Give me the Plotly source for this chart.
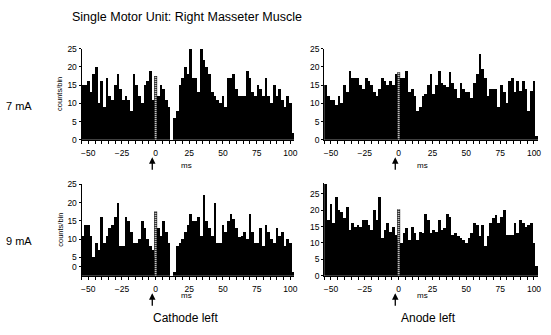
import plotly.graph_objects as go

# bin centres (ms), 2-ms bins
bin_ms = list(range(-54, 103, 2))

cathode_7mA = [15, 15, 16, 13, 18, 20, 10, 16, 9, 17, 12, 11, 15, 18, 14, 11, 12, 11, 8, 18,
               15, 12, 10, 15, 16, 19, 11, 11, 12, 15, 14, 11, 9, 0, 6, 8, 15, 17, 20, 18,
               25, 17, 17, 13, 25, 22, 20, 18, 13, 12, 11, 10, 12, 9, 17, 17, 18, 14, 12, 12,
               12, 19, 17, 13, 12, 15, 14, 12, 17, 12, 10, 15, 12, 14, 11, 9, 12, 10, 2]
anode_7mA = [15, 12, 11, 11, 9.5, 12, 10, 15, 13, 19, 17, 17, 17, 15, 14, 17, 16, 15, 13, 12,
             14, 17, 16, 15, 16, 15, 18, 17.5, 17, 17, 19, 13, 14, 12, 8, 9, 12, 12.5, 15, 18,
             12.5, 15, 19, 15.5, 15, 14.5, 18.5, 15.5, 14, 11.5, 15.5, 14, 13, 13, 11.5, 15.5, 18, 23.5, 19.5, 17,
             12, 14, 14, 14, 9, 15, 13, 10, 16, 17, 13, 16, 13.5, 16, 14, 8, 13.5, 16, 1]
cathode_9mA = [11, 14, 14, 11, 5, 9, 7, 16, 9, 11, 13, 14, 16, 20, 8, 8, 16, 15, 12, 9,
               9, 10, 15, 13, 10, 8, 7, 5, 13, 11, 15, 12, 9, 0, 1, 8, 9, 10, 12, 14,
               17, 15, 15, 16, 11, 22, 15, 13, 11, 20, 9, 9, 14, 12, 15, 17, 15.5, 13, 10.5, 11,
               12, 10, 17, 12, 9, 9, 13, 8, 14, 12, 10, 9, 13, 11, 12, 8, 10, 9, 1]
anode_9mA = [28, 17, 22, 16, 24, 20, 19.5, 17.5, 21, 14, 16, 15, 15.5, 15, 17, 17, 15.5, 14, 20, 17,
             24, 11.5, 14, 16, 13.5, 15, 12.5, 11, 10, 13, 14.5, 11, 15, 13, 11, 13.5, 13, 19, 17, 13,
             14, 13.5, 17, 14, 14.5, 19, 18, 12.5, 13, 12, 11.5, 11, 10, 11.5, 13, 16, 15.5, 12, 15.5, 9,
             12, 16, 17.5, 18.5, 16, 18, 20, 12.5, 12.5, 12.5, 16, 13, 17, 16, 15, 15.5, 16, 10, 3]

x_ticks = [-50, -25, 0, 25, 50, 75, 100]
y_ticks = [0, 5, 10, 15, 20, 25]
stim_top = [17.5, 18.5, 17.6, 20.3]   # height of the dotted stimulus marker

W, H = 551, 335
FONT = "Liberation Sans, Arial, sans-serif"

def px_x(p):
    return p / W

def px_y(p):
    return 1 - p / H

panels = [
    # values, x px range, y px range (bottom, top), y range
    (cathode_7mA, (82, 296), (139, 45), 25),
    (anode_7mA, (326, 541), (139, 45), 25),
    (cathode_9mA, (82, 296), (279, 185), 25),
    (anode_9mA, (326, 541), (279, 183), 28.5),
]

fig = go.Figure()
layout = dict(width=W, height=H, margin=dict(l=0, r=0, t=0, b=0),
              paper_bgcolor="white", plot_bgcolor="white", showlegend=False,
              bargap=0, font=dict(family=FONT, color="black"))
shapes = []
annotations = []

for k, (vals, (xl, xr), (yb, yt), ymax) in enumerate(panels):
    n = k + 1
    xa = "x" if n == 1 else f"x{n}"
    ya = "y" if n == 1 else f"y{n}"
    fig.add_trace(go.Bar(x=bin_ms, y=vals, width=2, xaxis=xa, yaxis=ya,
                         marker=dict(color="black", line=dict(width=0))))
    xkey = "xaxis" if n == 1 else f"xaxis{n}"
    ykey = "yaxis" if n == 1 else f"yaxis{n}"
    layout[xkey] = dict(domain=[px_x(xl), px_x(xr)], anchor=ya, range=[-55, 103],
                        showline=True, linecolor="black", linewidth=1,
                        ticks="outside", ticklen=3, tickwidth=1, tickcolor="black",
                        tickvals=x_ticks, showgrid=False, zeroline=False,
                        tickfont=dict(size=8.5, family=FONT), ticklabelstandoff=2,
                        minor=dict(dtick=5, tick0=0, ticks="outside", ticklen=3,
                                   tickcolor="black", showgrid=False))
    if n == 3:
        yvals = [2.4, 5, 10, 15, 20, 25]
    else:
        yvals = y_ticks
    layout[ykey] = dict(domain=[px_y(yb), px_y(yt)], anchor=xa, range=[0, ymax],
                        showline=True, linecolor="black", linewidth=1,
                        ticks="outside", ticklen=2, tickcolor="black",
                        tickvals=yvals, ticktext=[str(v) for v in y_ticks],
                        showgrid=False, zeroline=False,
                        tickfont=dict(size=8.5, family=FONT))
    # stimulus marker: black line with white dots on top
    shapes.append(dict(type="line", xref=xa, yref=ya, x0=0, x1=0, y0=0, y1=stim_top[k],
                       line=dict(color="black", width=3)))
    shapes.append(dict(type="line", xref=xa, yref=ya, x0=0, x1=0, y0=0, y1=stim_top[k],
                       line=dict(color="white", width=2, dash="1px,1px")))
    # arrow under the axis
    tip = 157 if n <= 2 else 297
    annotations.append(dict(x=-2.5, xref=xa, y=px_y(tip), yref="paper", text="",
                            showarrow=True, ax=0, ay=14, arrowhead=2, arrowsize=1,
                            arrowwidth=1.3, arrowcolor="black"))
    # "ms" label
    annotations.append(dict(x=px_x(xl + 106), y=px_y(165 if n <= 2 else 306), xref="paper",
                            yref="paper", text="ms", showarrow=False,
                            font=dict(size=8, family=FONT)))

def label(text, x, y, size, angle=0, xanchor="center"):
    annotations.append(dict(x=px_x(x), y=px_y(y), xref="paper", yref="paper", text=text,
                            showarrow=False, textangle=angle, xanchor=xanchor,
                            yanchor="middle", font=dict(size=size, family=FONT)))

label("Single Motor Unit: Right Masseter Muscle", 70, 12, 12.5, xanchor="left")
label("7 mA", 19, 104, 11)
label("9 mA", 19, 243, 11)
label("counts/bin", 60, 92, 7.5, angle=-90)
label("counts/bin", 60, 232, 7.5, angle=-90)
label("Cathode left", 187, 323, 12)
label("Anode left", 431, 323, 12)

layout["shapes"] = shapes
layout["annotations"] = annotations
fig.update_layout(**layout)
fig.write_html("out.html", config={"displayModeBar": False, "staticPlot": True},
               post_script="document.body.style.margin='0';document.body.style.overflow='hidden';")
